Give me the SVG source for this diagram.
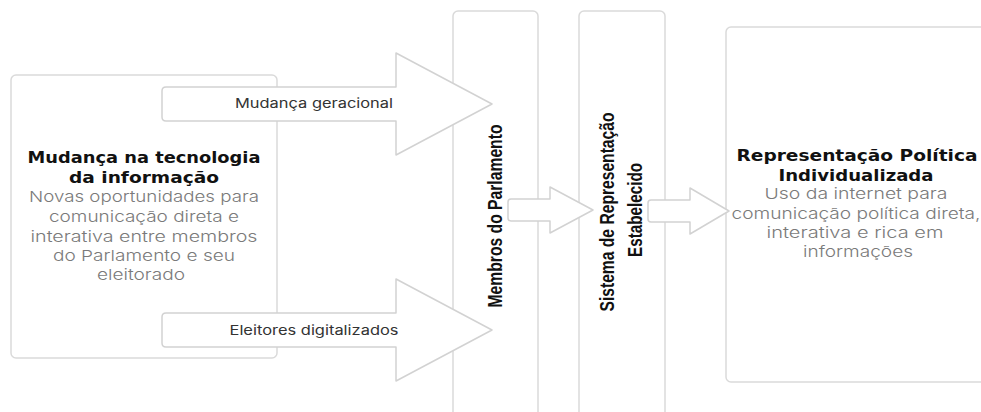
<svg xmlns="http://www.w3.org/2000/svg" width="981" height="412" viewBox="0 0 981 412">
<style>
.box{fill:#fff;stroke:#dadada;stroke-width:1.5}
.arr{fill:#fff;stroke:#d2d2d2;stroke-width:1.5;stroke-linejoin:round}
.h{font-family:"DejaVu Sans",sans-serif;font-weight:bold;font-size:16px;fill:#111;text-anchor:middle}
.d{font-family:"Inter","DejaVu Sans",sans-serif;font-weight:300;font-size:15px;fill:#7a7a7a;text-anchor:middle}
.v{font-family:"Liberation Sans",Arial,sans-serif;font-weight:bold;font-size:21px;fill:#111;text-anchor:middle}
.l{font-family:"Inter","DejaVu Sans",sans-serif;font-size:13px;fill:#333;text-anchor:middle}
</style>
<rect width="981" height="412" fill="#fff"/>
<g id="node-tecnologia">
<rect class="box" x="11" y="75" width="266" height="283" rx="5"/>
<text class="h" x="144" y="163" textLength="233" lengthAdjust="spacingAndGlyphs">Mudança na tecnologia</text>
<text class="h" x="144" y="183" textLength="150" lengthAdjust="spacingAndGlyphs">da informação</text>
<text class="d" x="144" y="202" textLength="230" lengthAdjust="spacingAndGlyphs">Novas oportunidades para</text>
<text class="d" x="144" y="222" textLength="190" lengthAdjust="spacingAndGlyphs">comunicação direta e</text>
<text class="d" x="144" y="242" textLength="227" lengthAdjust="spacingAndGlyphs">interativa entre membros</text>
<text class="d" x="144" y="261" textLength="182" lengthAdjust="spacingAndGlyphs">do Parlamento e seu</text>
<text class="d" x="141" y="280" textLength="88" lengthAdjust="spacingAndGlyphs">eleitorado</text>
</g>
<g id="node-membros">
<rect class="box" x="453" y="11" width="85" height="420" rx="5"/>
<text class="v" transform="translate(502,216) rotate(-90)" textLength="183" lengthAdjust="spacingAndGlyphs">Membros do Parlamento</text>
</g>
<g id="node-sistema">
<rect class="box" x="579" y="11" width="86" height="420" rx="5"/>
<text class="v" transform="translate(614,212) rotate(-90)" textLength="199" lengthAdjust="spacingAndGlyphs">Sistema de Representação</text>
<text class="v" transform="translate(642,210) rotate(-90)" textLength="94" lengthAdjust="spacingAndGlyphs">Estabelecido</text>
</g>
<g id="node-representacao">
<rect class="box" x="726" y="27" width="266" height="355" rx="5"/>
<text class="h" x="857" y="161" textLength="241" lengthAdjust="spacingAndGlyphs">Representação Política</text>
<text class="h" x="856" y="181" textLength="155" lengthAdjust="spacingAndGlyphs">Individualizada</text>
<text class="d" x="856" y="199" textLength="183" lengthAdjust="spacingAndGlyphs">Uso da internet para</text>
<text class="d" x="856" y="219" textLength="249" lengthAdjust="spacingAndGlyphs">comunicação política direta,</text>
<text class="d" x="855" y="238" textLength="177" lengthAdjust="spacingAndGlyphs">interativa e rica em</text>
<text class="d" x="858" y="257" textLength="110" lengthAdjust="spacingAndGlyphs">informações</text>
</g>
<g id="connectors">
<path class="arr" d="M166,87 H396 V53 L492,104 L396,155 V121 H166 Q162,121 162,117 V91 Q162,87 166,87 Z"/>
<text class="l" x="314" y="108" textLength="158" lengthAdjust="spacingAndGlyphs">Mudança geracional</text>
<path class="arr" d="M166,313 H396 V279 L492,330 L396,381 V347 H166 Q162,347 162,343 V317 Q162,313 166,313 Z"/>
<text class="l" x="314" y="335" textLength="169" lengthAdjust="spacingAndGlyphs">Eleitores digitalizados</text>
<path class="arr" d="M511,199 H550 V187 L593,210 L550,233 V221 H511 Q508,221 508,218 V202 Q508,199 511,199 Z"/>
<path class="arr" d="M651,200 H690 V188 L729,211 L690,234 V222 H651 Q648,222 648,219 V203 Q648,200 651,200 Z"/>
</g>
</svg>
